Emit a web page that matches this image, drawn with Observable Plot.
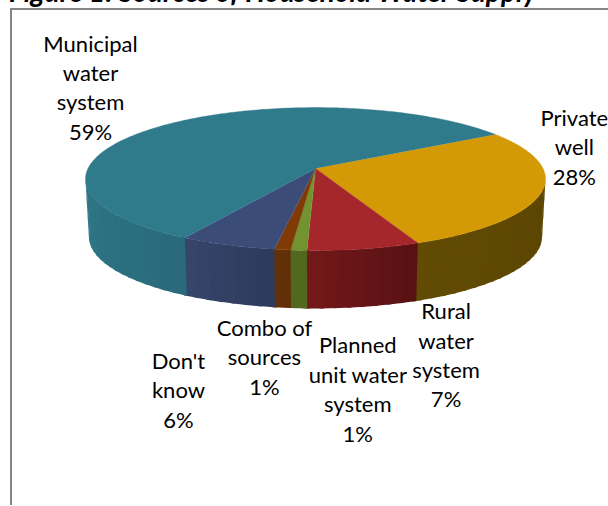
<!DOCTYPE html>
<html>
<head>
<meta charset="utf-8">
<script src="https://cdn.jsdelivr.net/npm/d3@7"></script>
<script src="https://cdn.jsdelivr.net/npm/@observablehq/plot@0.6"></script>
<style>
  html, body { margin: 0; padding: 0; background: #fff; }
  #page { position: relative; width: 608px; height: 506px; overflow: hidden; }
  #heading { position: absolute; left: 9px; top: -26px; font: italic bold 28px/34px Lato, sans-serif; color: #000; white-space: nowrap; }
  #border { position: absolute; left: 10px; top: 8px; right: 0; bottom: 1px; border-left: 2px solid #868686; border-top: 2px solid #868686; }
  #chart { position: absolute; left: 0; top: 0; }
  #chart svg { background: transparent; }
</style>
</head>
<body>
<div id="page">
  <div id="heading">Figure 1: Sources of Household Water Supply</div>
  <div id="border"></div>
  <div id="chart"></div>
</div>
<script>
// Household water sources, clockwise from the first slice
const sources = ["Private\nwell", "Rural\nwater\nsystem", "Planned\nunit water\nsystem", "Combo of\nsources", "Don't\nknow", "Municipal\nwater\nsystem"];
const percents = [28, 7, 1, 1, 6, 59];

// Slice colours: top face, then the two ends of the shaded rim
const topColors = ["#d49a06", "#a5262b", "#72932f", "#7f3a05", "#3b4c78", "#2f7a8b"];
const rimLeft = ["#624b04", "#75191b", "#51691f", "#613008", "#39476d", "#2e7888"];
const rimRight = ["#5b4400", "#581013", "#51691f", "#613008", "#2d3a5c", "#2a6a7a"];

// Label placement relative to each slice's rim midpoint, in pixels
const labelShiftX = [32, 82, 59, -18, -49, -77];
const labelShiftY = [-45, 105, 138, 106, 144, -38];

// Tilted-disc geometry
const firstAngle = 58.3;      // degrees clockwise from the back of the disc
const perspective = 0.147;    // foreshortening from front to back
const depth = 0.83;           // thickness in y-scale units
const baseShrink = 0.985;     // lower rim is slightly narrower
const rimStep = 3;            // degrees per shaded rim strip
const rimOverlap = 1;         // degrees each strip runs under the next one

const rad = (deg) => (deg * Math.PI) / 180;
const topPoint = (deg) => {
  const u = Math.sin(rad(deg)), v = -Math.cos(rad(deg));
  const w = 1 - perspective * v;
  return {x: u / w, y: v / w};
};
const basePoint = (deg) => {
  const p = topPoint(deg);
  return {x: p.x * baseShrink, y: p.y + depth};
};

const total = d3.sum(percents);
let running = firstAngle;
const slices = percents.map((value, i) => {
  const a0 = running;
  const a1 = a0 + (value / total) * 360;
  running = a1;
  return {i, value, a0, a1, mid: (a0 + a1) / 2, label: `${sources[i]}\n${value}%`};
});

// The rim faces the viewer between the disc's left and right silhouette points
const rimFrom = (Math.acos(-perspective) * 180) / Math.PI;
const rimTo = 360 - rimFrom;

const arcAngles = (a0, a1, step) => {
  const out = d3.range(a0, a1, step);
  out.push(a1);
  return out;
};

// Rim strips, each a thin quad shaded along its slice's visible arc
const rimPoints = [];
for (const s of slices) {
  const from = Math.max(s.a0, rimFrom);
  const to = Math.min(s.a1, rimTo);
  if (to <= from) continue;
  const ticks = arcAngles(from, to, rimStep);
  // Larger angles sit further left on the front of the disc
  const shade = d3.interpolateRgb(rimRight[s.i], rimLeft[s.i]);
  d3.pairs(ticks).forEach(([t0, t1], k) => {
    const id = `r${s.i}-${k}`;
    const color = shade((k + 0.5) / (ticks.length - 1));
    const t2 = Math.min(t1 + rimOverlap, rimTo);
    for (const p of [topPoint(t0), topPoint(t2), basePoint(t2), basePoint(t0)]) {
      rimPoints.push({...p, id, color});
    }
  });
}

// Top face wedges: the disc centre plus the arc
const wedgePoints = slices.flatMap((s) => {
  const arc = arcAngles(s.a0, s.a1, 1).map(topPoint);
  return [{x: 0, y: 0}, ...arc].map((p) => ({...p, id: `w${s.i}`, color: topColors[s.i]}));
});

const labels = slices.map((s) => {
  const p = topPoint(s.mid);
  return {text: s.label, x: p.x, y: p.y, dx: labelShiftX[s.i], dy: labelShiftY[s.i]};
});

// Converts a pixel shift into x and y scale units
const cx = 315, cy = 168, halfW = 227.5, halfH = 69.9;

const plot = Plot.plot({
  width: 608,
  height: 506,
  margin: 0,
  style: {background: "transparent"},
  x: {domain: [-1, 1], range: [cx - halfW, cx + halfW], axis: null},
  y: {domain: [-1, 1], range: [cy - halfH, cy + halfH], axis: null},
  color: {type: "identity"},
  marks: [
    Plot.line(rimPoints, {x: "x", y: "y", z: "id", fill: "color", stroke: null}),
    Plot.line(wedgePoints, {x: "x", y: "y", z: "id", fill: "color", stroke: "color", strokeWidth: 0.4}),
    Plot.text(labels, {
      x: (d) => d.x + d.dx / halfW,
      y: (d) => d.y + d.dy / halfH,
      text: "text",
      fontFamily: "Lato, sans-serif",
      fontSize: 22,
      lineHeight: 1.34,
      lineAnchor: "middle",
      textAnchor: "middle",
      fill: "#000"
    })
  ]
});
document.getElementById("chart").append(plot);
</script>
</body>
</html>
